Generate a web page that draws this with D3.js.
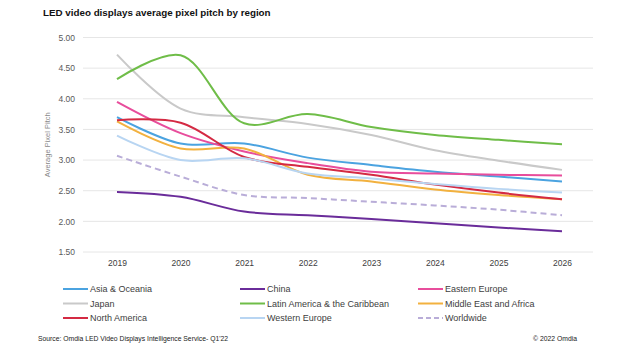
<!DOCTYPE html>
<html><head><meta charset="utf-8">
<script src="https://cdn.jsdelivr.net/npm/d3@7"></script>
<style>body{margin:0;background:#fff}svg{display:block}</style>
</head><body><svg id="c" width="630" height="360"></svg>
<script>
const years = ["2019","2020","2021","2022","2023","2024","2025","2026"];
const yTicks = [1.5,2.0,2.5,3.0,3.5,4.0,4.5,5.0];
const seriesNames = ["Asia & Oceania","China","Eastern Europe","Japan","Latin America & the Caribbean","Middle East and Africa","North America","Western Europe","Worldwide"];
const asiaOceania   = [3.70,3.27,3.27,3.04,2.92,2.81,2.73,2.65];
const china         = [2.48,2.40,2.16,2.10,2.04,1.97,1.90,1.84];
const easternEurope = [3.95,3.44,3.14,2.95,2.81,2.78,2.76,2.75];
const japan         = [4.72,3.84,3.70,3.59,3.41,3.16,2.99,2.84];
const latinAmerica  = [4.32,4.71,3.60,3.75,3.54,3.41,3.33,3.26];
const middleEast    = [3.63,3.19,3.19,2.76,2.65,2.52,2.43,2.36];
const northAmerica  = [3.65,3.61,3.05,2.89,2.76,2.60,2.47,2.36];
const westernEurope = [3.40,3.00,3.03,2.78,2.70,2.61,2.53,2.47];
const worldwide     = [3.07,2.73,2.43,2.38,2.32,2.26,2.19,2.10];
const seriesValues = [asiaOceania,china,easternEurope,japan,latinAmerica,middleEast,northAmerica,westernEurope,worldwide];
const colors = ["#4ba3e0","#6a2c9a","#e84d9c","#c9c9c9","#6fbd48","#f2b13f","#d42a43","#b8d5f2","#b9add8"];
const dashed = [false,false,false,false,false,false,false,false,true];

const svg = d3.select("#c");
const font = "'Liberation Sans', Arial, sans-serif";
const x = d3.scalePoint().domain(years).range([117,562]);
const y = d3.scaleLinear().domain([1.5,5]).range([252,37.5]);
const gridL = 83, gridR = 593;

svg.append("text").attr("x",43).attr("y",16).attr("font-family",font)
  .attr("font-size",9.8).attr("font-weight","bold").attr("fill","#111")
  .text("LED video displays average pixel pitch by region");

// grid
svg.append("g").selectAll("line").data(yTicks).join("line")
  .attr("x1",gridL).attr("x2",gridR).attr("y1",d=>y(d)).attr("y2",d=>y(d))
  .attr("stroke","#e6e6e6").attr("stroke-width",1);

// y axis
const ya = svg.append("g").attr("transform",`translate(${gridL},0)`)
  .call(d3.axisLeft(y).tickValues(yTicks).tickFormat(d3.format(".2f")).tickSize(0).tickPadding(8));
ya.select(".domain").remove();
ya.selectAll("text").attr("font-family",font).attr("font-size",8.5).attr("fill","#595959");

// x axis
const xa = svg.append("g").attr("transform",`translate(0,${y(1.5)})`)
  .call(d3.axisBottom(x).tickSize(0).tickPadding(8));
xa.select(".domain").remove();
xa.selectAll("text").attr("font-family",font).attr("font-size",8.5).attr("fill","#404040");

svg.append("text").attr("transform",`translate(50,${y(3.25)}) rotate(-90)`)
  .attr("text-anchor","middle").attr("font-family",font).attr("font-size",7.5).attr("fill","#8a8a8a")
  .text("Average Pixel Pitch");

const line = d3.line().x((d,i)=>x(years[i])).y(d=>y(d)).curve(d3.curveCatmullRom.alpha(0.5));
svg.append("g").selectAll("path").data(seriesValues).join("path")
  .attr("d",d=>line(d)).attr("fill","none")
  .attr("stroke",(d,i)=>colors[i]).attr("stroke-width",2)
  .attr("stroke-dasharray",(d,i)=>dashed[i]?"6,4":null);

// legend
const colX = [63,240,418], rowY = [289,303.5,318];
const lg = svg.append("g").selectAll("g").data(seriesNames).join("g")
  .attr("transform",(d,i)=>`translate(${colX[i%3]},${rowY[Math.floor(i/3)]})`);
lg.append("line").attr("x1",0).attr("x2",25).attr("y1",0).attr("y2",0)
  .attr("stroke",(d,i)=>colors[i]).attr("stroke-width",2)
  .attr("stroke-dasharray",(d,i)=>dashed[i]?"5,3":null);
lg.append("text").attr("x",27).attr("y",3.2).attr("font-family",font).attr("font-size",9)
  .attr("fill","#404040").text(d=>d);

svg.append("text").attr("x",38).attr("y",341).attr("font-family",font).attr("font-size",6.8)
  .attr("fill","#222").text("Source: Omdia LED Video Displays Intelligence Service- Q1'22");
svg.append("text").attr("x",577).attr("y",341).attr("text-anchor","end").attr("font-family",font)
  .attr("font-size",6.8).attr("fill","#222").text("© 2022 Omdia");
</script></body></html>
